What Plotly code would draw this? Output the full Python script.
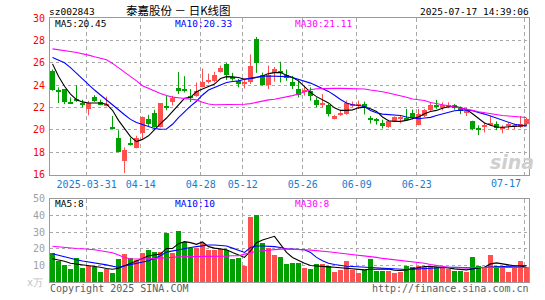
import plotly.graph_objects as go

# ---------------- data ----------------
tick_idx = [6, 15, 25, 32, 42, 51, 61, 79]
tick_labels = ["2025-03-31", "04-14", "04-28", "05-12", "05-26", "06-09", "06-23", "07-17"]

open_ = [25.30, 23.56, 23.65, 22.45, 22.80, 22.40, 21.88, 22.90, 22.45, 22.12,
         20.14, 19.24, 17.24, 18.76, 18.35, 19.68, 21.00, 21.53, 20.26, 22.05,
         22.47, 23.74, 23.60, 22.95, 23.06, 23.85, 24.30, 24.38, 25.20, 25.88,
         24.60, 24.40, 24.10, 24.32, 28.15, 24.94, 24.00, 25.12, 25.20, 24.88,
         24.32, 23.65, 23.40, 23.44, 22.68, 22.30, 22.24, 21.00, 21.30, 21.44,
         22.20, 22.15, 22.30, 21.00, 21.00, 20.62, 20.26, 20.79, 20.94, 20.97,
         21.53, 20.47, 21.24, 21.79, 22.15, 22.00, 22.09, 22.24, 22.00, 21.55,
         20.82, 20.06, 20.30, 20.50, 20.53, 20.15, 20.38, 20.32, 20.26, 20.50]
high = [25.40, 23.80, 23.65, 22.90, 24.00, 22.70, 22.60, 23.10, 22.70, 22.97,
        21.24, 19.97, 18.44, 19.30, 19.47, 21.20, 21.35, 21.80, 22.40, 23.05,
        23.05, 25.18, 24.80, 23.65, 24.24, 25.47, 25.03, 25.20, 25.76, 26.00,
        25.10, 24.55, 24.60, 26.74, 28.30, 25.12, 25.76, 25.62, 26.10, 25.40,
        24.82, 24.38, 23.88, 23.80, 22.90, 23.20, 22.32, 21.35, 21.80, 22.62,
        22.53, 22.62, 22.53, 21.24, 21.06, 20.91, 20.91, 21.20, 21.24, 21.88,
        21.82, 21.88, 21.88, 22.41, 22.68, 22.47, 22.47, 22.32, 22.09, 21.97,
        20.82, 20.41, 20.65, 21.24, 20.76, 20.41, 20.65, 20.56, 21.24, 21.06]
low = [23.50, 22.40, 22.30, 22.35, 22.50, 22.00, 21.30, 22.50, 22.20, 22.10,
       20.08, 18.00, 16.15, 18.60, 18.35, 19.20, 20.35, 20.20, 20.20, 21.75,
       22.18, 23.20, 23.35, 22.50, 22.97, 23.80, 24.15, 24.24, 25.12, 24.47,
       24.40, 23.80, 23.70, 24.10, 25.10, 23.94, 23.65, 24.30, 24.24, 24.38,
       23.65, 22.90, 23.06, 22.60, 22.03, 22.00, 21.20, 20.94, 21.24, 21.35,
       22.03, 21.88, 21.38, 20.56, 20.47, 20.12, 20.18, 20.70, 20.59, 20.79,
       20.94, 20.41, 21.15, 21.59, 21.88, 21.74, 21.94, 21.80, 21.41, 21.24,
       19.97, 19.53, 19.76, 20.35, 19.97, 19.68, 20.06, 20.06, 20.18, 20.35]
close = [23.56, 23.35, 22.50, 22.40, 22.60, 22.20, 22.41, 22.60, 22.30, 22.32,
         20.10, 18.06, 18.18, 18.65, 19.24, 21.15, 20.56, 20.26, 22.40, 22.00,
         22.85, 23.44, 23.56, 22.90, 23.47, 24.29, 24.35, 24.88, 25.50, 24.91,
         24.55, 24.10, 24.32, 25.70, 26.00, 24.00, 24.88, 25.41, 25.15, 24.68,
         23.88, 23.12, 23.45, 23.06, 22.26, 22.35, 21.38, 21.20, 21.53, 22.41,
         22.24, 22.18, 21.97, 20.94, 20.76, 20.35, 20.79, 21.12, 21.18, 20.94,
         21.06, 21.44, 21.79, 22.24, 22.10, 22.18, 22.24, 22.00, 21.65, 21.59,
         20.06, 20.03, 20.35, 20.56, 20.18, 20.18, 20.41, 20.35, 20.56, 20.94]

ma5 = [25.9, 24.8, 23.9, 23.2, 22.7, 22.5, 22.4, 22.4, 22.4, 22.3,
       21.75, 20.85, 20.1, 19.4, 18.95, 19.15, 19.47, 20.06, 20.56, 21.06,
       21.65, 22.18, 22.82, 22.91, 23.41, 23.65, 23.85, 24.09, 24.59, 24.76,
       24.74, 24.68, 24.53, 24.59, 24.68, 24.82, 25.03, 25.12, 25.12, 24.88,
       24.68, 24.38, 23.88, 23.35, 22.97, 22.68, 22.41, 21.97, 21.74, 21.74,
       21.79, 21.97, 22.03, 21.88, 21.65, 21.15, 20.82, 20.76, 20.76, 20.85,
       21.0, 21.15, 21.44, 21.65, 21.74, 21.94, 22.06, 22.09, 22.0, 21.82,
       21.44, 21.0, 20.62, 20.41, 20.26, 20.24, 20.26, 20.29, 20.35, 20.45]
ma10 = [26.47, 26.24, 26.0, 25.56, 25.06, 24.53, 24.0, 23.56, 23.12, 22.7,
        22.24, 21.8, 21.35, 20.94, 20.65, 20.5, 20.3, 20.12, 20.06, 20.08,
        20.5, 21.1, 21.65, 22.12, 22.56, 23.12, 23.56, 23.79, 24.0, 24.24,
        24.32, 24.38, 24.53, 24.62, 24.74, 24.79, 24.82, 24.82, 24.82, 24.76,
        24.68, 24.53, 24.38, 24.18, 23.94, 23.71, 23.44, 23.1, 22.71, 22.41,
        22.24, 22.18, 22.09, 21.74, 21.53, 21.41, 21.38, 21.35, 21.29, 21.15,
        21.06, 21.0, 21.06, 21.12, 21.29, 21.44, 21.59, 21.71, 21.76, 21.79,
        21.71, 21.59, 21.41, 21.24, 21.06, 20.85, 20.68, 20.5, 20.41, 20.33]
ma30 = [27.24, 27.18, 27.09, 27.0, 26.91, 26.82, 26.68, 26.53, 26.41, 26.26,
        25.94, 25.56, 25.18, 24.76, 24.38, 23.95, 23.7, 23.45, 23.25, 23.08,
        22.93, 22.87, 22.82, 22.76, 22.68, 22.47, 22.32, 22.24, 22.24, 22.24,
        22.26, 22.29, 22.29, 22.35, 22.47, 22.59, 22.68, 22.74, 22.85, 22.91,
        23.06, 23.2, 23.41, 23.59, 23.68, 23.71, 23.71, 23.71, 23.71, 23.71,
        23.71, 23.71, 23.65, 23.56, 23.5, 23.41, 23.29, 23.18, 23.06, 22.91,
        22.76, 22.71, 22.62, 22.45, 22.32, 22.24, 22.15, 22.06, 21.97, 21.85,
        21.74, 21.62, 21.53, 21.44, 21.35, 21.29, 21.24, 21.2, 21.16, 21.11]

volume = [17.2, 12.5, 10.1, 7.7, 14.2, 8.3, 9.7, 9.3, 5.9, 7.9,
          5.3, 13.8, 16.6, 14.2, 13.2, 17.6, 19.0, 17.8, 17.8, 29.6,
          17.6, 30.8, 24.1, 20.6, 20.8, 23.5, 19.2, 19.2, 19.8, 19.2,
          13.8, 14.4, 9.7, 39.1, 40.5, 23.7, 20.2, 16.0, 14.8, 10.7,
          11.3, 11.3, 8.5, 7.9, 10.7, 10.7, 9.5, 5.9, 7.3, 12.5,
          7.3, 5.3, 7.3, 13.8, 6.5, 6.5, 6.5, 5.3, 5.9, 9.9,
          9.3, 9.9, 8.9, 9.9, 9.3, 8.9, 7.9, 6.5, 6.5, 5.9,
          14.8, 9.5, 8.5, 16.0, 9.9, 8.9, 5.9, 8.9, 12.5, 8.9]
vma5 = [14.0, 13.4, 12.5, 11.3, 10.9, 10.5, 10.1, 9.7, 8.9, 8.1,
        7.7, 8.3, 9.7, 11.3, 12.8, 14.2, 15.8, 16.2, 16.8, 20.2,
        20.2, 23.1, 24.3, 23.7, 22.7, 24.1, 21.3, 20.4, 19.8, 19.4,
        17.8, 16.2, 14.8, 18.8, 23.7, 25.3, 26.3, 27.5, 22.7, 17.8,
        14.8, 12.8, 11.3, 9.9, 9.5, 9.3, 9.1, 8.9, 8.5, 8.3,
        7.9, 7.5, 7.3, 7.7, 7.9, 7.9, 7.9, 7.1, 6.9, 7.3,
        8.1, 8.9, 9.3, 9.3, 9.1, 8.9, 8.5, 7.9, 7.5, 7.3,
        7.9, 8.3, 8.9, 10.9, 11.5, 10.9, 10.1, 9.7, 9.7, 8.9]
vma10 = [17.0, 16.0, 15.0, 14.2, 13.4, 12.6, 12.1, 11.7, 11.1, 10.3,
         9.5, 8.9, 9.7, 10.5, 11.3, 11.9, 12.8, 14.2, 15.8, 18.0,
         18.8, 19.6, 20.2, 20.8, 21.3, 21.9, 22.3, 22.3, 22.1, 21.7,
         20.4, 19.2, 17.8, 20.8, 21.7, 21.7, 21.7, 21.3, 20.8, 20.0,
         19.8, 19.8, 19.4, 17.8, 14.8, 12.8, 11.3, 10.5, 9.9, 9.5,
         9.3, 9.1, 8.9, 8.9, 8.5, 8.1, 7.9, 7.7, 7.5, 7.5,
         7.7, 7.9, 8.3, 8.7, 8.9, 8.9, 8.9, 8.9, 8.7, 8.5,
         8.5, 8.7, 8.9, 9.1, 9.3, 9.3, 9.5, 9.7, 9.9, 9.9]
vma30 = [21.5, 21.1, 20.8, 20.4, 20.2, 20.0, 19.8, 19.4, 18.8, 18.4,
         17.6, 16.2, 14.8, 14.0, 13.8, 13.8, 14.0, 14.2, 14.2, 14.2,
         14.8, 15.2, 15.2, 15.2, 15.2, 15.4, 15.4, 15.4, 15.4, 15.6,
         15.8, 15.8, 16.8, 17.8, 18.4, 18.8, 19.2, 19.6, 19.8, 19.8,
         19.8, 19.6, 19.4, 19.2, 19.0, 18.8, 18.2, 17.8, 17.4, 17.0,
         16.6, 16.2, 16.0, 15.4, 14.8, 14.2, 13.8, 13.4, 13.0, 12.8,
         12.5, 11.9, 11.3, 10.5, 9.9, 9.3, 8.9, 8.7, 8.5, 8.5,
         8.7, 8.7, 8.7, 8.7, 8.7, 8.7, 8.7, 8.7, 8.7, 8.7]

# ---------------- styling ----------------
RED = "#ff5050"
GREEN = "#00a000"
MONO = "DejaVu Sans Mono"
GRID = "#a8a8a8"
FRAME = "#9a9a9a"

n = len(close)
idx = list(range(n))
up = [c >= o for o, c in zip(open_, close)]
colors = [RED if u else GREEN for u in up]

fig = go.Figure()

# wicks
for flag, col in ((True, RED), (False, GREEN)):
    wx, wy = [], []
    for i in idx:
        if up[i] == flag:
            wx += [i, i, None]
            wy += [low[i], high[i], None]
    fig.add_trace(go.Scatter(x=wx, y=wy, mode="lines", line=dict(color=col, width=1),
                             hoverinfo="skip", xaxis="x", yaxis="y"))

# bodies
base = [min(o, c) for o, c in zip(open_, close)]
height = [max(abs(c - o), 0.09) for o, c in zip(open_, close)]
fig.add_trace(go.Bar(x=idx, y=height, base=base, width=0.8, marker=dict(color=colors, line=dict(width=0)),
                     xaxis="x", yaxis="y"))

# price MAs
for arr, col in ((ma5, "#000000"), (ma10, "#0000ff"), (ma30, "#ff00ff")):
    fig.add_trace(go.Scatter(x=idx, y=arr, mode="lines", line=dict(color=col, width=1.1),
                             xaxis="x", yaxis="y"))

# volume bars
fig.add_trace(go.Bar(x=idx, y=volume, width=0.83, marker=dict(color=colors, line=dict(width=0)),
                     xaxis="x2", yaxis="y2"))
for arr, col in ((vma5, "#000000"), (vma10, "#0000ff"), (vma30, "#ff00ff")):
    fig.add_trace(go.Scatter(x=idx, y=arr, mode="lines", line=dict(color=col, width=1.1),
                             xaxis="x2", yaxis="y2"))

grid_x = [t - 0.3 for t in tick_idx]
xr = [-0.4167, 79.4167]

W, H = 545, 300
ML, MR, MT, MB = 50, 16, 18, 14
PH = H - MT - MB


def py(ypx):
    return (H - MB - ypx) / PH


def px(xpx):
    return (xpx - ML) / (W - ML - MR)


fig.update_layout(
    width=W, height=H,
    margin=dict(l=ML, r=MR, t=MT, b=MB),
    paper_bgcolor="white", plot_bgcolor="white",
    showlegend=False, bargap=0,
    font=dict(family=MONO, size=10),
    xaxis=dict(domain=[0, 1], range=xr, anchor="y", tickvals=grid_x,
               ticktext=tick_labels[:-1] + [""], ticks="", showgrid=True, gridcolor=GRID,
               griddash="4px,3px", gridwidth=1, showline=True, linecolor=FRAME, mirror=True,
               tickfont=dict(family=MONO, size=10, color="#1a7bd0"), zeroline=False),
    yaxis=dict(domain=[py(177), 1], range=[16, 30], tickvals=[16, 18, 20, 22, 24, 26, 28, 30],
               ticks="", showgrid=True, gridcolor=GRID, griddash="dot", showline=True,
               linecolor=FRAME, mirror=True, zeroline=False, ticklabelstandoff=2,
               tickfont=dict(family=MONO, size=10, color="#ff0000")),
    xaxis2=dict(domain=[0, 1], range=xr, anchor="y2", tickvals=grid_x, showticklabels=False,
                ticks="", showgrid=True, gridcolor=GRID, griddash="4px,3px", showline=True,
                linecolor=FRAME, mirror=True, zeroline=False),
    yaxis2=dict(domain=[0, py(201.7)], range=[0, 50], tickvals=[10, 20, 30, 40, 50], ticks="",
                showgrid=True, gridcolor=GRID, griddash="dot", showline=True, linecolor=FRAME,
                mirror=True, zeroline=False, ticklabelstandoff=2,
                tickfont=dict(family=MONO, size=10, color="#a0a0a0")),
)

ann = []


def add(text, x, y, color, xanchor="left", size=9.5, family=MONO, xref="paper", **kw):
    ann.append(dict(text=text, x=x, y=y, xref=xref, yref="paper", xanchor=xanchor,
                    yanchor="middle", showarrow=False, font=dict(family=family, size=size, color=color),
                    borderpad=0, **kw))


add("sz002843", px(48), py(11), "#000000")
add("泰嘉股份 － 日K线图", px(178), py(9.5), "#000000", xanchor="center", size=11.5,
    family="Noto Sans CJK SC")
add("2025-07-17 14:39:06", px(530), py(11), "#000000", xanchor="right")
add("MA5:%.2f" % ma5[-1], px(54), py(24), "#000000")
add("MA10:%.2f" % ma10[-1], px(174), py(24), "#0000ff")
add("MA30:%.2f" % ma30[-1], px(294), py(24), "#ff00ff")
add("MA5:%d" % int(vma5[-1]), px(54), py(206.5), "#000000")
add("MA10:%d" % round(vma10[-1]), px(174), py(206.5), "#0000ff")
add("MA30:%d" % int(vma30[-1]), px(294), py(206.5), "#ff00ff")
add(tick_labels[-1], px(522), py(186), "#1a7bd0", xanchor="right", size=10)
add("x万", px(44), py(286), "#c0c0c0", xanchor="right", size=10)
add("Copyright 2025 SINA.COM", px(49), py(292.5), "#606060", size=10)
add("http://finance.sina.com.cn", px(530), py(292.5), "#606060", xanchor="right", size=10)
add("<b><i>sina</i></b>", px(512), py(164), "#cfcfcf", xanchor="center", size=19, family="DejaVu Sans")
fig.update_layout(annotations=ann)

fig.write_html("out.html")
